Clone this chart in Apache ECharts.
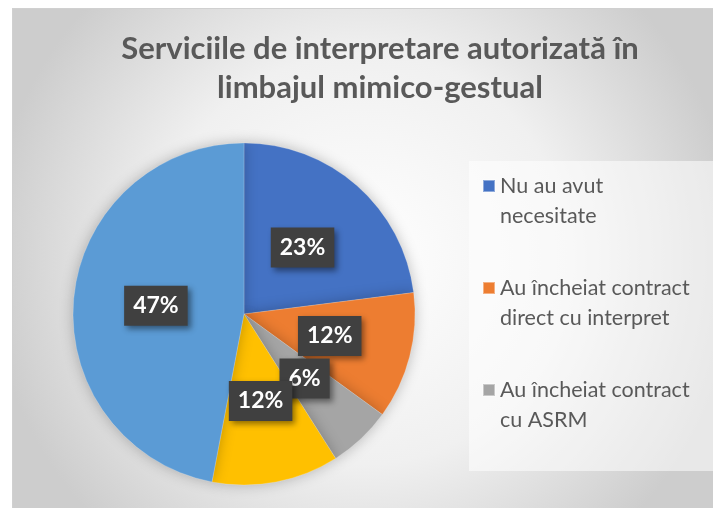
<!DOCTYPE html>
<html>
<head>
<meta charset="utf-8">
<script src="https://cdn.jsdelivr.net/npm/echarts@6/dist/echarts.min.js"></script>
<style>
  html, body { margin: 0; padding: 0; background: #fff; }
  #chart {
    position: absolute;
    left: 12px;
    top: 8px;
    width: 701px;
    height: 500px;
    border-top: 1px solid #d0d0d0;
    border-left: 1px solid #d0d0d0;
    box-sizing: border-box;
  }
</style>
</head>
<body>
<div id="chart"></div>
<script>
const titleText = 'Serviciile de interpretare autorizată în\nlimbajul mimico-gestual';

const categories = [
  'Nu au avut necesitate',
  'Au încheiat contract direct cu interpret',
  'Au încheiat contract cu ASRM',
  'Au beneficiat prin alte surse',
  'Nu au beneficiat'
];
const values = [23, 12, 6, 12, 47];
const colors = ['#4472C4', '#ED7D31', '#A5A5A5', '#FFC000', '#5B9BD5'];
// only the first three entries fit in the legend box
const legendNames = categories.slice(0, 3);

// simple word wrap for the legend text
function wrap(text, maxChars) {
  const lines = [];
  let line = '';
  text.split(' ').forEach((w) => {
    if (line && (line + ' ' + w).length > maxChars) {
      lines.push(line);
      line = w;
    } else {
      line = line ? line + ' ' + w : w;
    }
  });
  if (line) lines.push(line);
  return lines.join('\n');
}

const chart = echarts.init(document.getElementById('chart'));

chart.setOption({
  backgroundColor: {
    type: 'radial',
    x: 0.5,
    y: 0.5,
    r: 0.75,
    colorStops: [
      { offset: 0, color: '#ffffff' },
      { offset: 0.55, color: '#f0f0f0' },
      { offset: 1, color: '#cdcdcd' }
    ]
  },
  color: colors,
  graphic: [
    {
      type: 'rect',
      left: 456,
      top: 152,
      shape: { width: 245, height: 310 },
      style: { fill: 'rgba(255,255,255,0.55)' },
      z: -1
    }
  ],
  title: {
    text: titleText,
    left: 367,
    top: 20,
    padding: 0,
    textAlign: 'center',
    textStyle: {
      fontFamily: 'Lato',
      fontSize: 31,
      fontWeight: 'bold',
      color: '#595959',
      lineHeight: 39
    }
  },
  legend: {
    data: legendNames,
    orient: 'vertical',
    left: 469,
    top: 132,
    padding: 0,
    icon: 'rect',
    itemWidth: 12,
    itemHeight: 12,
    itemGap: 12,
    // leading blank line puts the first text line level with the icon
    formatter: (name) => '\n' + wrap(name, 20),
    textStyle: {
      fontFamily: 'Lato',
      fontSize: 21.5,
      color: '#595959',
      lineHeight: 30
    }
  },
  series: [
    {
      type: 'pie',
      center: [231, 305],
      radius: 171,
      startAngle: 90,
      clockwise: true,
      avoidLabelOverlap: false,
      labelLayout: { hideOverlap: false },
      data: categories.map((name, i) => ({ name: name, value: values[i] })),
      itemStyle: {
        borderColor: 'rgba(255,255,255,0.4)',
        borderWidth: 0.5,
        shadowBlur: 14,
        shadowColor: 'rgba(0,0,0,0.25)'
      },
      label: {
        position: 'inside',
        formatter: (p) => p.value + '%',
        fontFamily: 'Lato',
        fontSize: 23,
        fontWeight: 'bold',
        color: '#ffffff',
        backgroundColor: '#404040',
        padding: [9, 9, 8, 9],
        shadowColor: 'rgba(0,0,0,0.45)',
        shadowBlur: 6,
        shadowOffsetX: 3,
        shadowOffsetY: 3
      },
      labelLine: { show: false },
      emphasis: { scale: false }
    }
  ]
});
</script>
</body>
</html>
